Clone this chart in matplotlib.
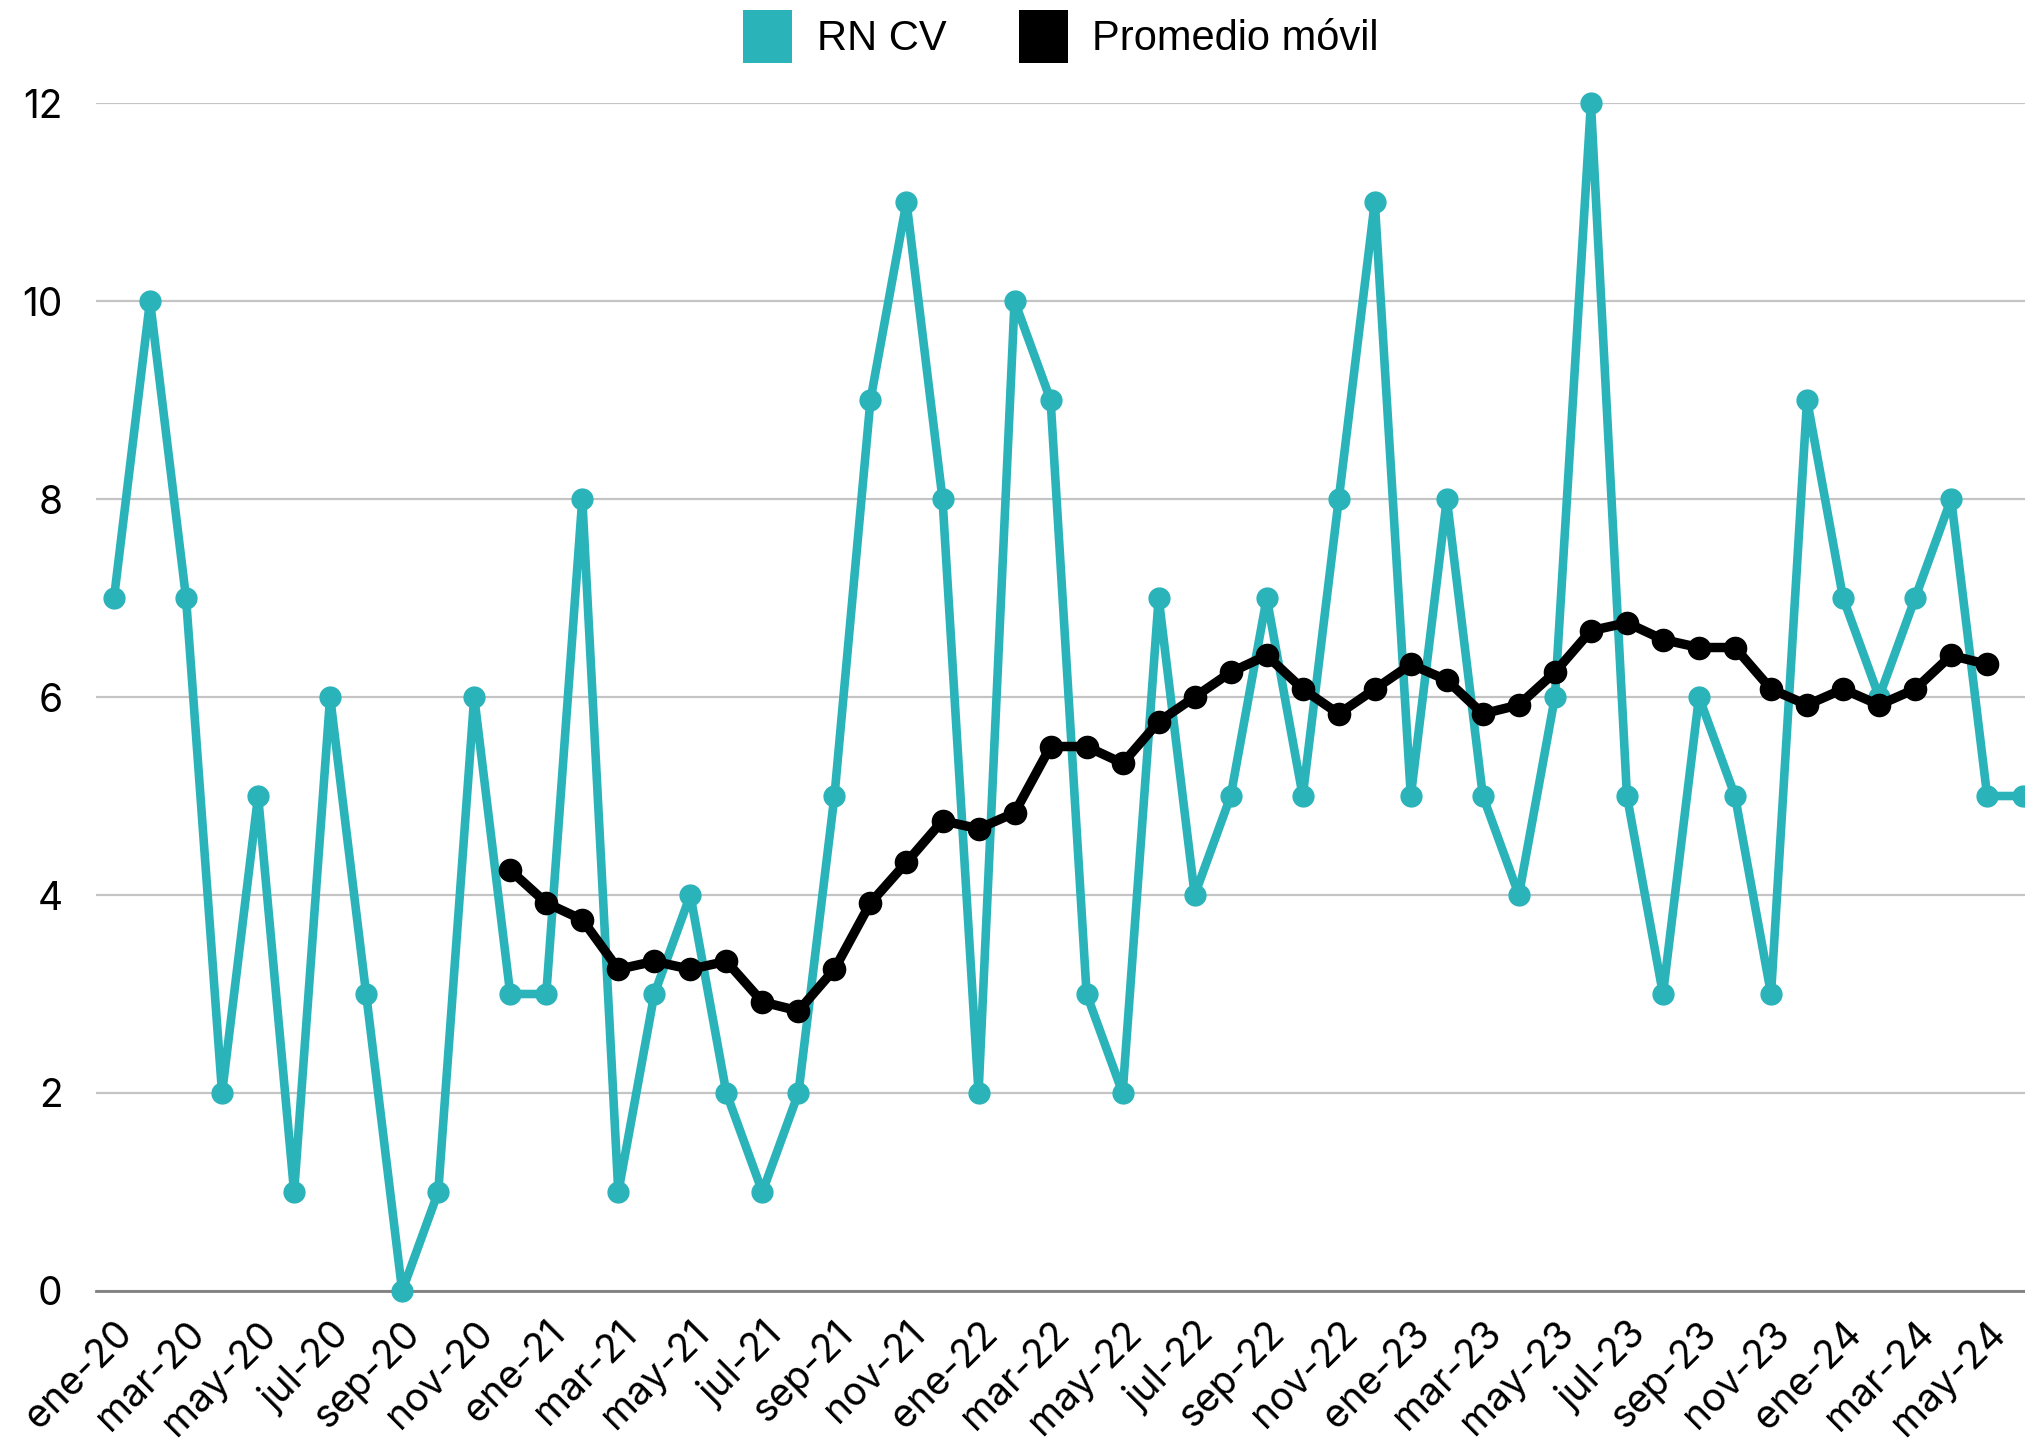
import matplotlib
matplotlib.use("Agg")
import matplotlib.pyplot as plt
from matplotlib.patches import Patch

# monthly counts, ene-20 .. jun-24
months = ["ene", "feb", "mar", "abr", "may", "jun", "jul", "ago", "sep", "oct", "nov", "dic"]
years = ["20", "21", "22", "23", "24"]
labels = [m + "-" + y for y in years for m in months][:54]

rn_cv = [7, 10, 7, 2, 5, 1, 6, 3, 0, 1, 6, 3,
         3, 8, 1, 3, 4, 2, 1, 2, 5, 9, 11, 8,
         2, 10, 9, 3, 2, 7, 4, 5, 7, 5, 8, 11,
         5, 8, 5, 4, 6, 12, 5, 3, 6, 5, 3, 9,
         7, 6, 7, 8, 5, 5]

# moving average, starts at dic-20, ends at may-24
ma_start = 11
prom_movil = [4.25, 3.92, 3.75, 3.25, 3.33, 3.25, 3.33, 2.92, 2.83, 3.25, 3.92, 4.33,
              4.75, 4.67, 4.83, 5.50, 5.50, 5.33, 5.75, 6.00, 6.25, 6.42, 6.08, 5.83,
              6.08, 6.33, 6.17, 5.83, 5.92, 6.25, 6.67, 6.75, 6.58, 6.50, 6.50, 6.08,
              5.92, 6.08, 5.92, 6.08, 6.42, 6.33]

TEAL = "#2bb3ba"
tick_font = "Inter"
leg_font = "Liberation Sans"

fig = plt.figure(figsize=(20.25, 14.41), dpi=100)
ax = fig.add_axes([0.0474, 0.1041, 0.9526, 0.8244])

x = list(range(len(rn_cv)))
x_ma = list(range(ma_start, ma_start + len(prom_movil)))

ax.plot(x, rn_cv, color=TEAL, lw=6.2, marker="o", ms=15, clip_on=False, zorder=3,
        solid_joinstyle="round")
ax.plot(x_ma, prom_movil, color="black", lw=6.8, marker="o", ms=16, clip_on=False,
        zorder=4, solid_joinstyle="round")

ax.set_xlim(-0.5, 53.05)
ax.set_ylim(0, 12)
ax.set_yticks(range(0, 13, 2))
ax.yaxis.grid(True, color="#c4c4c4", lw=1.6)
ax.set_axisbelow(True)

for s in ["top", "right", "left"]:
    ax.spines[s].set_visible(False)
ax.spines["bottom"].set_color("#808080")
ax.spines["bottom"].set_linewidth(2)
ax.spines["bottom"].set_zorder(2)

ax.set_xticks(x[::2])
ax.set_xticklabels(labels[::2], rotation=45, ha="right", va="top",
                   rotation_mode="anchor", fontsize=28, family=tick_font)
ax.tick_params(axis="x", length=0, pad=17)
ax.tick_params(axis="y", length=0, pad=24, labelsize=28)
for t in ax.get_yticklabels():
    t.set_family(tick_font)

handles = [Patch(facecolor=TEAL, edgecolor="none", label="RN CV"),
           Patch(facecolor="black", edgecolor="none", label="Promedio móvil")]
fig.legend(handles=handles, loc="center", bbox_to_anchor=(0.524, 0.9747), ncol=2,
           frameon=False, handlelength=1.18, handleheight=1.55, handletextpad=0.58,
           columnspacing=1.75, borderpad=0, prop={"family": leg_font, "size": 30})

fig.savefig("out.png", dpi=100)
